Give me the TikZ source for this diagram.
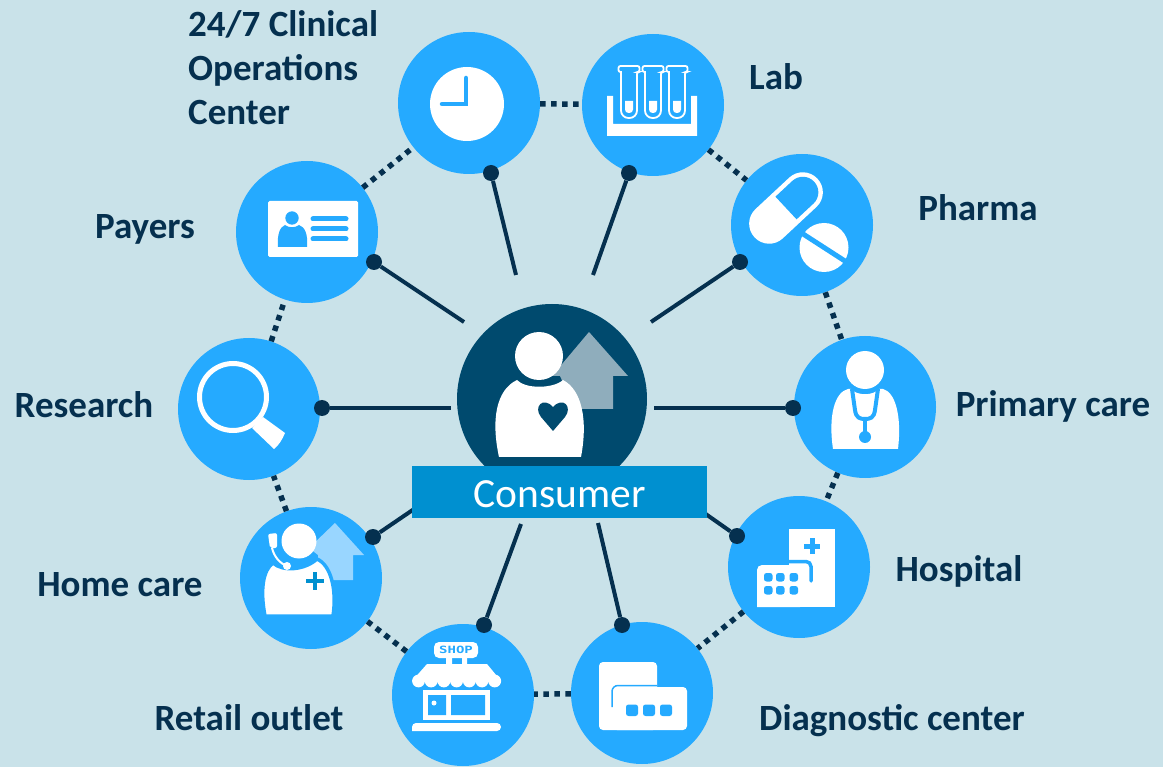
\documentclass[tikz,border=0pt]{standalone}
\usepackage{fontspec}
\setmainfont{Carlito}
\newfontfamily\shopfont{DejaVu Sans Mono}
\usepackage{tikz}
\definecolor{paleback}{HTML}{C9E2E9}
\definecolor{hubblue}{HTML}{25AAFF}
\definecolor{navyline}{HTML}{05304F}
\definecolor{centreblue}{HTML}{004A6E}
\definecolor{bandblue}{HTML}{0090D0}
\definecolor{homeroof}{HTML}{99D6FF}
\definecolor{centreroof}{HTML}{8FADBC}
\tikzset{
hub/.style={circle,fill=hubblue,inner sep=0pt,minimum size=142pt},
dot/.style={circle,fill=navyline,inner sep=0pt,minimum size=16pt},
spoke/.style={navyline,line width=4pt},
ring/.style={navyline,line width=5.5pt,dash pattern=on 5.5pt off 5.5pt},
tag/.style={anchor=base,text=navyline,font=\fontsize{37}{44}\selectfont\bfseries},
}
\newcommand{\labtube}[1]{
\begin{scope}[xshift=#1pt]
\draw[white,fill=hubblue,line width=1.8pt] (-8,72) [rounded corners=2pt] -- (-10.5,72) -- (-10.5,66) -- (10.5,66) -- (10.5,72) -- (8,72) [rounded corners=7.5pt] -- (8,118) -- (-8,118) [sharp corners] -- cycle;
\fill[white] (-4,101) [rounded corners=3.5pt] -- (-4,113) -- (4,113) [sharp corners] -- (4,101) -- cycle;
\end{scope}
}
\begin{document}
\begin{tikzpicture}[x=1pt,y=-1pt]
\fill[paleback] (0,0) rectangle (1163,767);
\useasboundingbox (0,0) rectangle (1163,767);

\draw (469,103) node[hub] (Clk) {} (653,105) node[hub] (Lab) {} (802,225) node[hub] (Phm) {} (865,407) node[hub] (Pri) {} (799,567) node[hub] (Hsp) {} (642,693) node[hub] (Dgn) {} (463,695) node[hub] (Rtl) {} (311,578) node[hub] (Hom) {} (249,409) node[hub] (Res) {} (307,232) node[hub] (Pay) {};
\node (Ctr) [circle,fill=centreblue,inner sep=0pt,minimum size=190pt] at (552,399) {};

\draw[ring] (Clk)--(Lab);
\draw[ring] (Lab)--(Phm);
\draw[ring] (Phm)--(Pri);
\draw[ring] (Pri)--(Hsp);
\draw[ring] (Hsp)--(Dgn);
\draw[ring] (Dgn)--(Rtl);
\draw[ring] (Rtl)--(Hom);
\draw[ring] (Hom)--(Res);
\draw[ring] (Res)--(Pay);
\draw[ring] (Pay)--(Clk);

\draw (491,173) node[dot] (D1) {} (629,173) node[dot] (D2) {} (740,262) node[dot] (D3) {} (793,408) node[dot] (D4) {} (737,536) node[dot] (D5) {} (622,625) node[dot] (D6) {} (484,625) node[dot] (D7) {} (373,537) node[dot] (D8) {} (322,408) node[dot] (D9) {} (374,262) node[dot] (D10) {};
\coordinate (E1) at (516,275);
\coordinate (E2) at (593,275);
\coordinate (E3) at (651,322);
\coordinate (E4) at (654,408);
\coordinate (E5) at (700,510);
\coordinate (E6) at (598,523);
\coordinate (E7) at (521,524);
\coordinate (E8) at (420,505);
\coordinate (E9) at (451,408);
\coordinate (E10) at (464,322);
\draw[spoke] (D1)--(E1);
\draw[spoke] (D2)--(E2);
\draw[spoke] (D3)--(E3);
\draw[spoke] (D4)--(E4);
\draw[spoke] (D5)--(E5);
\draw[spoke] (D6)--(E6);
\draw[spoke] (D7)--(E7);
\draw[spoke] (D8)--(E8);
\draw[spoke] (D9)--(E9);
\draw[spoke] (D10)--(E10);

% centre figure
\fill[centreroof] (589,332) -- (628,376) -- (613,376) -- (613,409) -- (575,409) -- (560,376) -- (552,376) -- cycle;
\fill[white] (499,457) .. controls (491,420) and (496,390) .. (517,380) .. controls (525,389) and (553,389) .. (563,380) .. controls (582,390) and (588,420) .. (581,457) -- cycle;
\fill[white] (539,356) circle (24pt);
\fill[centreblue] (553,431) -- (541,417) .. controls (533,407) and (543,396) .. (553,407) .. controls (563,396) and (573,407) .. (565,417) -- cycle;
\node (Band) [fill=bandblue,inner sep=0pt,minimum width=295pt,minimum height=52pt,text=white,text height=31pt,text depth=0pt,font=\fontsize{41.5}{42}\selectfont] at (559.5,492) {Consumer};

% clock
\fill[white] (467,104) circle (37pt);
\draw[hubblue,line width=4.5pt,line cap=round,line join=miter] (466,78) -- (466,104) -- (442,104);

% lab
\fill[white] (607,96) -- (613,96) -- (613,124) -- (691,124) -- (691,96) -- (697,96) -- (697,136) -- (607,136) -- cycle;
\labtube{629}
\labtube{653}
\labtube{677}

% pharma
\begin{scope}[shift={(786,208)},rotate=43]
\fill[white,rounded corners=19.9pt] (-43,-20) rectangle (43,20);
\fill[hubblue] (0,-15.5) [rounded corners=15.4pt] -- (38.5,-15.5) -- (38.5,15.5) [sharp corners] -- (0,15.5) -- cycle;
\end{scope}
\fill[white] (824,247.5) circle (24.5pt);
\draw[hubblue,line width=5pt] (800,232) -- (848,263);

% primary care
\fill[white] (865,370) circle (19pt);
\fill[white] (833,449) .. controls (828,415) and (835,392) .. (848,389) -- (851,389) .. controls (857,396) and (873,396) .. (879,389) -- (883,389) .. controls (895,392) and (902,415) .. (898,449) -- cycle;
\draw[hubblue,line width=4pt] (852,389) -- (855,410) .. controls (856,418) and (860,419) .. (865,419) .. controls (870,419) and (874,418) .. (875,410) -- (878,389);
\draw[hubblue,line width=4pt] (865,419) -- (865,437);
\fill[hubblue] (865,437) circle (6pt);

% hospital
\fill[white] (789,529) rectangle (835,607);
\fill[white] (757,607) [rounded corners=5pt] -- (757,565) -- (800,565) [sharp corners] -- (800,607) -- cycle;
\draw[hubblue,line width=3.5pt,line cap=round] (789,561.5) [rounded corners=5pt] -- (811,561.5) -- (811,581);
\draw[hubblue,line width=5pt] (804,546) -- (820,546) (812,538) -- (812,554);
\fill[hubblue,rounded corners=2.5pt] (764,573) rectangle (772.5,581.5) (776,573) rectangle (784.5,581.5) (789.5,573) rectangle (798,581.5) (764,586) rectangle (772.5,594.5) (776,586) rectangle (784.5,594.5) (789.5,586) rectangle (798,594.5);

% diagnostic
\fill[white,rounded corners=4pt] (599,662) rectangle (657,730);
\fill[white,rounded corners=4pt] (613,687) rectangle (687,730);
\draw[hubblue,line width=1.5pt] (612,707) [rounded corners=6pt] -- (612,685.5) -- (657,685.5);
\fill[hubblue,rounded corners=2.5pt] (626,704.5) rectangle (638,716) (643,704.5) rectangle (655,716) (660,704.5) rectangle (672,716);

% retail
\fill[white,rounded corners=5pt] (434,642) rectangle (478,658);
\node (Shop) [inner sep=0pt,text=hubblue,font=\fontsize{10}{10}\shopfont\bfseries,transform shape,xscale=1.4] at (456,650) {SHOP};
\fill[white] (446,658) rectangle (452,665) (462,658) rectangle (467,665);
\fill[white] (427,664) -- (487,664) -- (501,681) -- (412,681) -- cycle;
\fill[white] (418.5,681) circle (6.4pt) (431.2,681) circle (6.4pt) (443.9,681) circle (6.4pt) (456.6,681) circle (6.4pt) (469.3,681) circle (6.4pt) (482,681) circle (6.4pt) (494.7,681) circle (6.4pt);
\fill[white] (423,690) rectangle (490,720);
\fill[hubblue] (428,695) rectangle (446,715) (451,695) rectangle (485,715);
\fill[white] (434,703) circle (2.5pt);
\fill[white,rounded corners=4pt] (412,731) -- (412,723) -- (501,723) -- (501,731) [sharp corners] -- cycle;

% home care
\fill[homeroof] (335,523) -- (364,555) -- (353,555) -- (353,580) -- (320,580) -- (318,555) -- (309,548) -- cycle;
\fill[white] (299,541) circle (17.5pt);
\draw[hubblue,line width=3.5pt,fill=white] (265,616) .. controls (260,590) and (263,570) .. (273,563) .. controls (283,572) and (305,570) .. (317,559) .. controls (331,565) and (337,590) .. (333,616) -- cycle;
\fill[hubblue] (263,618) rectangle (336,622);
\draw[hubblue,line width=6pt] (272,548) .. controls (274,556) and (279,563) .. (287,566);
\draw[white,line width=2pt] (272,548) .. controls (274,556) and (279,563) .. (287,566);
\fill[white] (287,566) circle (4pt);
\fill[white,rounded corners=2pt] (268,534) -- (277,533) -- (277,548) -- (270,548) -- cycle;
\draw[bandblue,line width=4.5pt] (306,581) -- (324,581) (315,572) -- (315,590);

% research
\draw[white,line width=5pt] (233,397) circle (33.5pt);
\fill[white] (263,417) -- (285,433) .. controls (282,440) and (279,445) .. (274,449) -- (252,428) -- cycle;

% payers
\fill[white,rounded corners=1.5pt] (268,201) rectangle (358,257);
\fill[hubblue] (292,218) circle (6.7pt);
\fill[hubblue] (278,247) .. controls (277,234) and (280,227) .. (285,225) .. controls (289,228) and (295,228) .. (299,225) .. controls (305,227) and (308,234) .. (307,247) -- cycle;
\draw[hubblue,line width=5pt,line cap=round] (313,219) -- (346,219);
\draw[hubblue,line width=5pt,line cap=round] (313,229) -- (346,229);
\draw[hubblue,line width=5pt,line cap=round] (313,239) -- (346,239);

\node (T1) [tag,align=left,anchor=north west,inner sep=0pt] at (188,10.5) {24/7 Clinical\\Operations\\Center};
\node (T2) [tag] at (776,90) {Lab};
\node (T3) [tag] at (978,221) {Pharma};
\node (T4) [tag] at (1053,417) {Primary care};
\node (T5) [tag] at (959,581.5) {Hospital};
\node (T6) [tag] at (892,730) {Diagnostic center};
\node (T7) [tag] at (249,730) {Retail outlet};
\node (T8) [tag] at (120,596.5) {Home care};
\node (T9) [tag] at (84,418) {Research};
\node (T10) [tag] at (145,239) {Payers};
\end{tikzpicture}
\end{document}
